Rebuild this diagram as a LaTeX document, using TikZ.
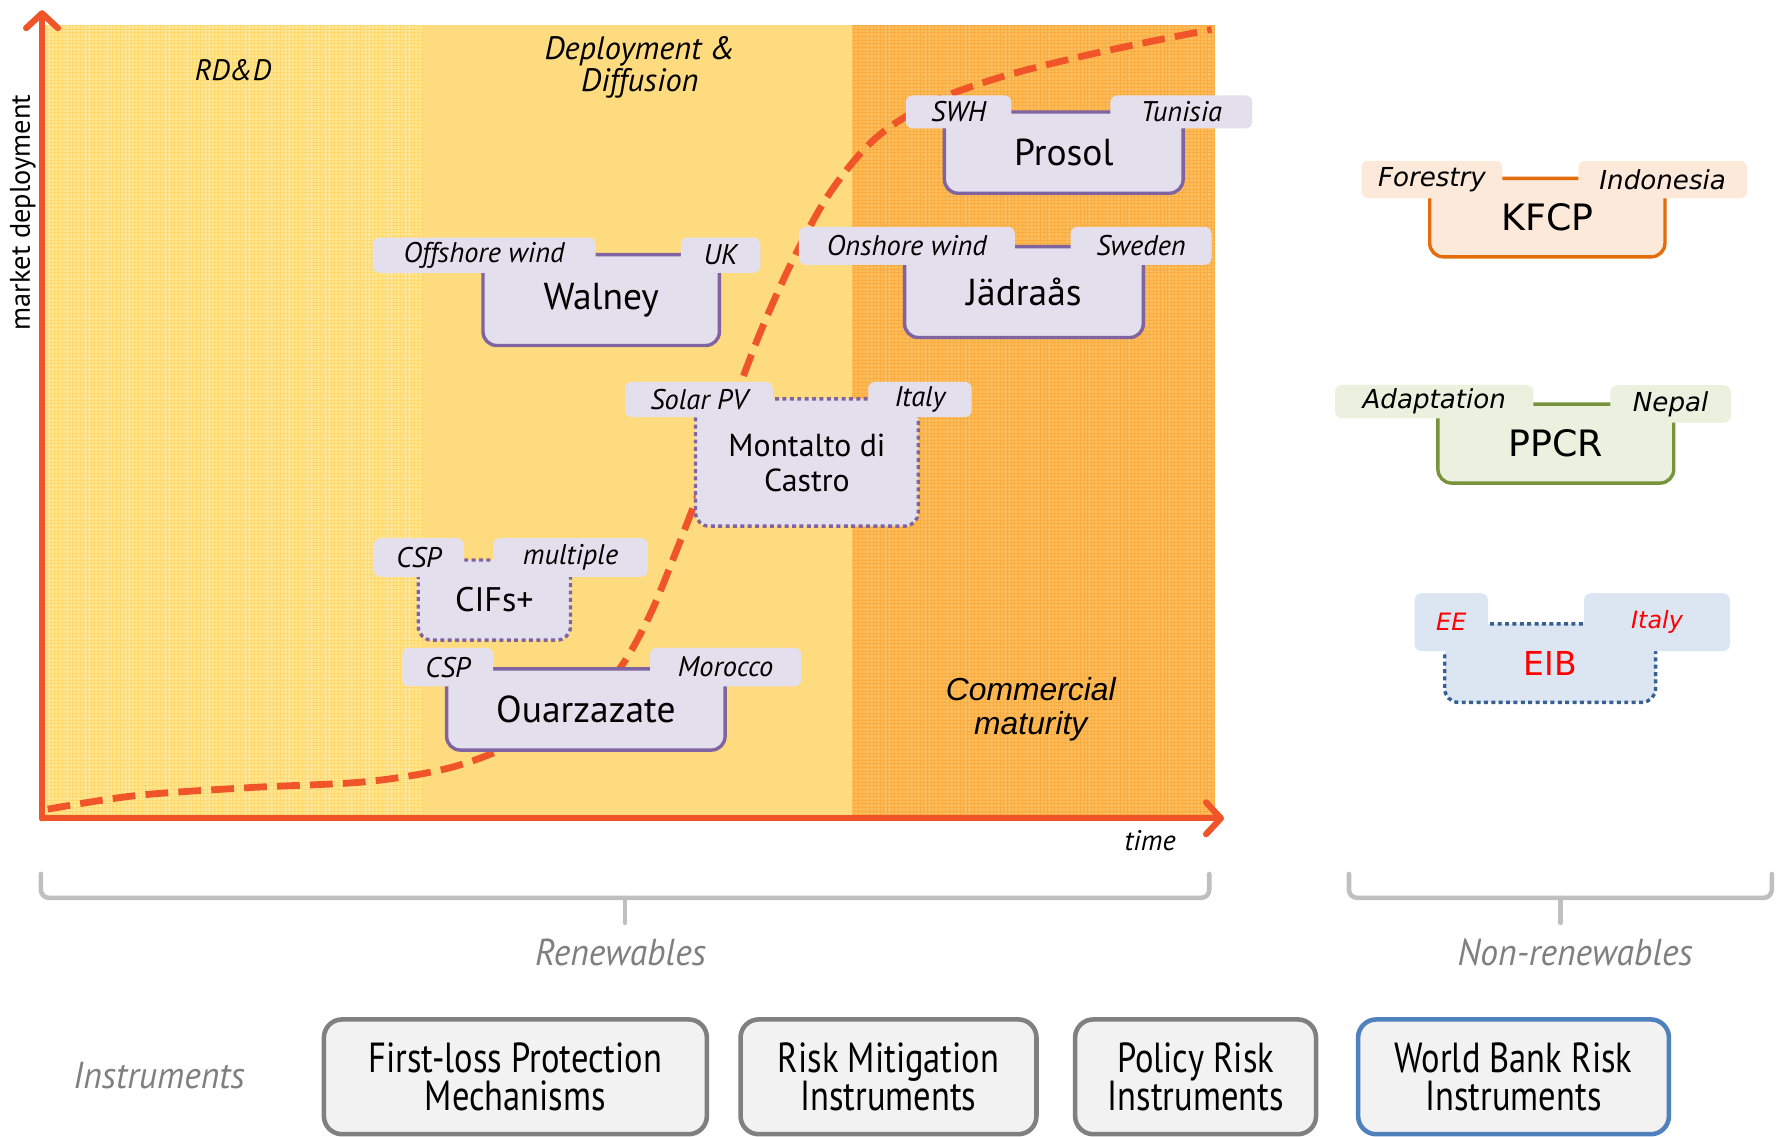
\documentclass[tikz,border=0pt]{standalone}
\usepackage{fontspec}
\setmainfont{PT Sans}
\newfontfamily\vfont{DejaVu Sans}
\newfontfamily\afont{Liberation Sans}
\newfontfamily\cfont[FakeStretch=0.82]{PT Sans}
\newfontfamily\gfont[FakeStretch=0.95]{PT Sans}
\usetikzlibrary{arrows.meta}
\definecolor{axisred}{HTML}{F0552A}
\definecolor{bgA}{HTML}{FFE596}
\definecolor{bgAline}{HTML}{FFD04A}
\definecolor{bgB}{HTML}{FFDB80}
\definecolor{bgC}{HTML}{FDBD5C}
\definecolor{bgCline}{HTML}{F6A029}
\definecolor{prjfill}{HTML}{E4DFEC}
\definecolor{prjline}{HTML}{8064A2}
\definecolor{kfill}{HTML}{FDE9D9}
\definecolor{kline}{HTML}{E46C0A}
\definecolor{pfill}{HTML}{EBF1DE}
\definecolor{pline}{HTML}{77933C}
\definecolor{efill}{HTML}{DCE6F2}
\definecolor{eline}{HTML}{376092}
\definecolor{brgray}{HTML}{BFBFBF}
\definecolor{txgray}{HTML}{7F7F7F}
\definecolor{insfill}{HTML}{F2F2F2}
\definecolor{insline}{HTML}{808080}
\definecolor{insblue}{HTML}{4F81BD}
\definecolor{eibred}{HTML}{FF0000}
\tikzset{
  axisline/.style={draw=axisred, line width=5.5pt, line cap=round,
    -{Straight Barb[length=13pt,width=28pt,line cap=round,line join=round]}},
  scurve/.style={draw=axisred, line width=6pt, dash pattern=on 20pt off 9pt},
  mainbox/.style={rounded corners=12pt, line width=3pt, inner sep=0pt,
    font=\fontsize{33}{35}\selectfont, align=center},
  pbox/.style={mainbox, draw=prjline, fill=prjfill},
  pboxdot/.style={pbox, dash pattern=on 3.5pt off 3pt},
  ptab/.style={fill=prjfill, rounded corners=6pt, inner sep=0pt,
    font=\fontsize{25}{27}\selectfont\itshape},
  rtab/.style={rounded corners=6pt, inner sep=0pt,
    font=\vfont\fontsize{23}{25}\selectfont\itshape},
  rbox/.style={rounded corners=12pt, line width=3pt, inner sep=0pt,
    font=\vfont\fontsize{32}{34}\selectfont},
  brace/.style={draw=brgray, line width=4pt, rounded corners=7pt, line cap=round},
  ibox/.style={draw=insline, fill=insfill, line width=4pt, rounded corners=16pt,
    inner sep=0pt, align=center, minimum height=101,
    font=\cfont\fontsize{37}{34}\selectfont},
  graylab/.style={text=txgray, font=\gfont\fontsize{33}{35}\selectfont\itshape},
  phase/.style={font=\fontsize{26}{28}\selectfont\itshape, align=center}
}
\begin{document}
\begin{tikzpicture}[x=1pt,y=-1pt]
\useasboundingbox (0,0) rectangle (1568,1000);
% background phases
\fill[bgA] (40,22) rectangle (372,717);
\draw[bgAline, line width=0.45pt, opacity=0.55] (40,22) grid[xstep=3.2pt,ystep=3.2pt] (372,717);
\fill[bgB] (372,22) rectangle (750,717);
\fill[bgC] (750,22) rectangle (1069,717);
\draw[bgCline, line width=0.45pt, opacity=0.55] (750,22) grid[xstep=3.2pt,ystep=3.2pt] (1069,717);
% phase labels
\node[phase] (rdd) at (205,62) {RD\&D};
\node[phase, font=\fontsize{28.5}{28}\selectfont\itshape] (dd) at (563,59) {Deployment \&\\Diffusion};
\node[phase, font=\afont\fontsize{28}{30}\selectfont\itshape] (cm) at (907,624) {Commercial\\maturity};
% S-curve
\draw[scurve] plot[smooth, tension=0.55] coordinates {(42,712) (120,700) (220,693) (320,688) (390,677) (440,660) (495,632) (540,595) (570,545) (595,485) (620,420) (645,355) (670,290) (698,228) (730,170) (770,122) (820,90) (880,68) (950,50) (1010,37) (1066,26)};
% axes
\coordinate (orig) at (37,720);
\coordinate (ytip) at (37,9);
\coordinate (xtip) at (1077,720);
\draw[axisline] (orig) -- (ytip);
\draw[axisline] (orig) -- (xtip);
\node[rotate=90, font=\fontsize{25}{27}\selectfont] (ylab) at (20,187) {market deployment};
\node[font=\fontsize{25}{27}\selectfont\itshape] (tlab) at (1012,740) {time};
% Walney
\node[pbox, minimum width=208, minimum height=80] (walney) at (529,264) {Walney};
\node[ptab, minimum width=196, minimum height=31] (walneyL) at (426,224.5) {Offshore wind};
\node[ptab, minimum width=70, minimum height=31] (walneyR) at (634,224.5) {UK};
% Prosol
\node[pbox, minimum width=210, minimum height=71.5] (prosol) at (936,134.3) {Prosol};
\node[ptab, minimum width=93, minimum height=29] (prosolL) at (843.5,98.5) {SWH};
\node[ptab, minimum width=125, minimum height=29] (prosolR) at (1039.5,98.5) {Tunisia};
% Jadraas
\node[pbox, minimum width=210, minimum height=80] (jad) at (901,257) {Jädraås};
\node[ptab, minimum width=190, minimum height=33.5] (jadL) at (798,216.3) {Onshore wind};
\node[ptab, minimum width=124, minimum height=33.5] (jadR) at (1004,216.3) {Sweden};
% Montalto
\node[pboxdot, minimum width=196, minimum height=112, font=\fontsize{28}{31}\selectfont] (mont) at (710,407) {Montalto di\\Castro};
\node[ptab, minimum width=130, minimum height=31] (montL) at (615,351.5) {Solar PV};
\node[ptab, minimum width=91, minimum height=31] (montR) at (809.5,351.5) {Italy};
% CIFs+
\node[pboxdot, minimum width=134, minimum height=70.5, font=\fontsize{30}{32}\selectfont] (cifs) at (435,528) {CIFs+};
\node[ptab, minimum width=79, minimum height=34] (cifsL) at (368.5,490.5) {CSP};
\node[ptab, minimum width=136, minimum height=34] (cifsR) at (502,490.5) {multiple};
% Ouarzazate
\node[pbox, minimum width=245, minimum height=71.4] (ouar) at (515.5,624.3) {Ouarzazate};
\node[ptab, minimum width=80, minimum height=34] (ouarL) at (394,587) {CSP};
\node[ptab, minimum width=133, minimum height=34] (ouarR) at (638.5,587) {Morocco};
% KFCP
\node[rbox, draw=kline, fill=kfill, minimum width=207, minimum height=69] (kfcp) at (1361.5,191.5) {KFCP};
\node[rtab, fill=kfill, minimum width=124, minimum height=33] (kfcpL) at (1260,158) {Forestry};
\node[rtab, fill=kfill, minimum width=148.5, minimum height=33] (kfcpR) at (1463,158) {Indonesia};
% PPCR
\node[rbox, draw=pline, fill=pfill, minimum width=207.5, minimum height=69.5] (ppcr) at (1369,390.3) {PPCR};
\node[rtab, fill=pfill, minimum width=174.4, minimum height=29.5] (ppcrL) at (1262,353.4) {Adaptation};
\node[rtab, fill=pfill, minimum width=106, minimum height=33] (ppcrR) at (1470,355.4) {Nepal};
% EIB
\node[rbox, draw=eline, fill=efill, dash pattern=on 3.5pt off 3pt, text=eibred, font=\vfont\fontsize{29}{32}\selectfont, minimum width=185.5, minimum height=69] (eib) at (1364,583.5) {EIB};
\node[rtab, fill=efill, text=eibred, font=\vfont\fontsize{21}{24}\selectfont\itshape, minimum width=64.6, minimum height=51] (eibL) at (1277,547.5) {EE};
\node[rtab, fill=efill, text=eibred, font=\vfont\fontsize{21}{24}\selectfont\itshape, minimum width=128.3, minimum height=51] (eibR) at (1458,547.5) {Italy};
% braces
\draw[brace] (36,769) -- (36,790) -- (1064,790) -- (1064,769);
\draw[brace] (550,790) -- (550,812);
\draw[brace] (1187,769) -- (1187,790) -- (1559,790) -- (1559,769);
\draw[brace] (1373,790) -- (1373,812);
\node[graylab] (ren) at (546,838) {Renewables};
\node[graylab] (nren) at (1386,838) {Non-renewables};
\node[graylab] (instr) at (140,946) {Instruments};
% instruments
\node[ibox, minimum width=337] (i1) at (453.5,947.5) {First-loss Protection\\Mechanisms};
\node[ibox, minimum width=260.4] (i2) at (781.8,947.5) {Risk Mitigation\\Instruments};
\node[ibox, minimum width=212] (i3) at (1052,947.5) {Policy Risk\\Instruments};
\node[ibox, draw=insblue, minimum width=273.5] (i4) at (1331.75,947.5) {World Bank Risk\\Instruments};
\end{tikzpicture}
\end{document}
